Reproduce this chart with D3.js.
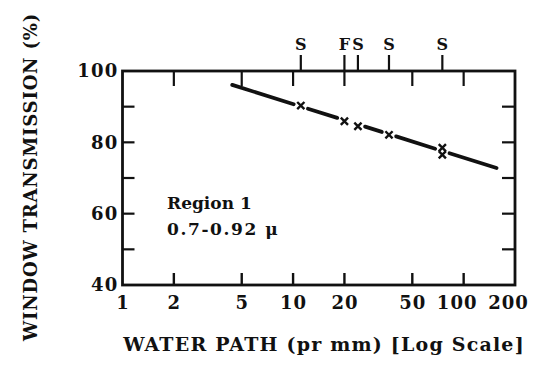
<!DOCTYPE html>
<html>
<head>
<meta charset="utf-8">
<script src="https://cdn.jsdelivr.net/npm/d3@7/dist/d3.min.js"></script>
<style>
  html, body { margin: 0; padding: 0; background: #fff; }
  svg { display: block; }
  text { font-family: "DejaVu Serif", serif; font-weight: bold; fill: #111; }
</style>
</head>
<body>
<svg id="chart" width="536" height="365"></svg>
<script>
// Water path (mm, log scale) vs. window transmission (%), region 1
const xTicks = [1, 2, 5, 10, 20, 50, 100, 200];
const xInnerTicks = [2, 5, 10, 20, 50, 100];
const yTicks = [40, 60, 80, 100];
const yMinorTicks = [50, 60, 70, 80, 90];

// measured points
const pathMM = [11.1, 20, 24, 36.5, 75, 75];
const transmission = [90.3, 85.9, 84.5, 82.1, 78.5, 76.5];

// fitted line end points
const fitPath = [4.4, 156];
const fitTrans = [96.1, 72.8];

// source markers along the top edge
const srcPath = [11.1, 20, 24, 36.5, 75];
const srcLabel = ["S", "F", "S", "S", "S"];

const svg = d3.select("#chart");
const plotL = 122.5, plotR = 515, plotT = 71, plotB = 285;

const x = d3.scaleLog().domain([1, 200]).range([plotL, plotR]);
const y = d3.scaleLinear().domain([40, 100]).range([plotB, plotT]);

const ink = "#111";

// frame
svg.append("rect")
  .attr("x", plotL).attr("y", plotT)
  .attr("width", plotR - plotL).attr("height", plotB - plotT)
  .attr("fill", "none").attr("stroke", ink).attr("stroke-width", 2.8);

// bottom axis: labels + inward ticks
const xb = svg.append("g").attr("transform", `translate(0,${plotB})`)
  .call(d3.axisBottom(x).tickValues(xTicks).tickFormat(d3.format("d")).tickSize(0).tickPadding(11));
xb.select(".domain").remove();
xb.selectAll("text")
  .attr("font-size", 18).attr("font-family", "DejaVu Serif").attr("font-weight", "bold")
  .attr("letter-spacing", 1).attr("fill", ink)
  .attr("dx", d => d >= 100 ? -7 : 0);

svg.append("g").selectAll("line").data(xInnerTicks).join("line")
  .attr("x1", d => x(d)).attr("x2", d => x(d))
  .attr("y1", plotB).attr("y2", plotB - 12)
  .attr("stroke", ink).attr("stroke-width", 2.4);

// top edge ticks pointing down
svg.append("g").selectAll("line").data(xInnerTicks).join("line")
  .attr("x1", d => x(d)).attr("x2", d => x(d))
  .attr("y1", plotT).attr("y2", plotT + 15)
  .attr("stroke", ink).attr("stroke-width", 2.2);

// left axis labels
const yl = svg.append("g").attr("transform", `translate(${plotL},0)`)
  .call(d3.axisLeft(y).tickValues(yTicks).tickSize(0).tickPadding(4));
yl.select(".domain").remove();
yl.selectAll("text")
  .attr("font-size", 18).attr("font-family", "DejaVu Serif").attr("font-weight", "bold")
  .attr("letter-spacing", 1.2).attr("fill", ink);

// inward ticks on left and right edges
svg.append("g").selectAll("line").data(yMinorTicks).join("line")
  .attr("x1", plotL).attr("x2", plotL + 12)
  .attr("y1", d => y(d)).attr("y2", d => y(d))
  .attr("stroke", ink).attr("stroke-width", 2.2);
svg.append("g").selectAll("line").data(yMinorTicks).join("line")
  .attr("x1", plotR).attr("x2", plotR - 13)
  .attr("y1", d => y(d)).attr("y2", d => y(d))
  .attr("stroke", ink).attr("stroke-width", 2.2);

// source markers on top edge
const src = svg.append("g");
src.selectAll("line").data(srcPath).join("line")
  .attr("x1", d => x(d)).attr("x2", d => x(d))
  .attr("y1", plotT).attr("y2", plotT - 16)
  .attr("stroke", ink).attr("stroke-width", 2.2);
src.selectAll("text").data(srcPath).join("text")
  .attr("x", d => x(d)).attr("y", plotT - 21)
  .attr("text-anchor", "middle").attr("font-size", 16)
  .text((d, i) => srcLabel[i]);

// fitted line, broken around each measured point
const fitY = p => {
  const t = (Math.log10(p) - Math.log10(fitPath[0])) / (Math.log10(fitPath[1]) - Math.log10(fitPath[0]));
  return fitTrans[0] + t * (fitTrans[1] - fitTrans[0]);
};
const nodes = [{p: fitPath[0], v: fitTrans[0], gap: 0}];
Array.from(new Set(pathMM)).forEach(p => nodes.push({p, v: fitY(p), gap: 7.5}));
nodes.push({p: fitPath[1], v: fitTrans[1], gap: 0});

const segs = [];
for (let i = 0; i < nodes.length - 1; i++) {
  const a = nodes[i], b = nodes[i + 1];
  const ax = x(a.p), ay = y(a.v), bx = x(b.p), by = y(b.v);
  const len = Math.hypot(bx - ax, by - ay);
  const ux = (bx - ax) / len, uy = (by - ay) / len;
  if (len > a.gap + b.gap + 1) {
    segs.push([[ax + ux * a.gap, ay + uy * a.gap], [bx - ux * b.gap, by - uy * b.gap]]);
  }
}
svg.append("g").selectAll("line").data(segs).join("line")
  .attr("x1", d => d[0][0]).attr("y1", d => d[0][1])
  .attr("x2", d => d[1][0]).attr("y2", d => d[1][1])
  .attr("stroke", ink).attr("stroke-width", 3.8).attr("stroke-linecap", "round");

// measured points as small crosses
const pts = pathMM.map((p, i) => [x(p), y(transmission[i])]);
const s = 3.6;
svg.append("g").selectAll("path").data(pts).join("path")
  .attr("d", d => `M${d[0]-s},${d[1]-s}L${d[0]+s},${d[1]+s}M${d[0]+s},${d[1]-s}L${d[0]-s},${d[1]+s}`)
  .attr("stroke", ink).attr("stroke-width", 2.4).attr("fill", "none");

// annotation
svg.append("text").attr("x", 167).attr("y", 209).attr("font-size", 17).text("Region 1");
svg.append("text").attr("x", 167).attr("y", 235).attr("font-size", 17)
  .attr("letter-spacing", 1.6).text("0.7-0.92 μ");

// axis titles
svg.append("text")
  .attr("x", 324).attr("y", 351)
  .attr("text-anchor", "middle").attr("font-size", 19).attr("letter-spacing", 1.2)
  .text("WATER PATH (pr mm) [Log Scale]");
svg.append("text")
  .attr("transform", `translate(37,177) rotate(-90)`)
  .attr("text-anchor", "middle").attr("font-size", 18).attr("letter-spacing", 0.8)
  .text("WINDOW TRANSMISSION (%)");
</script>
</body>
</html>
